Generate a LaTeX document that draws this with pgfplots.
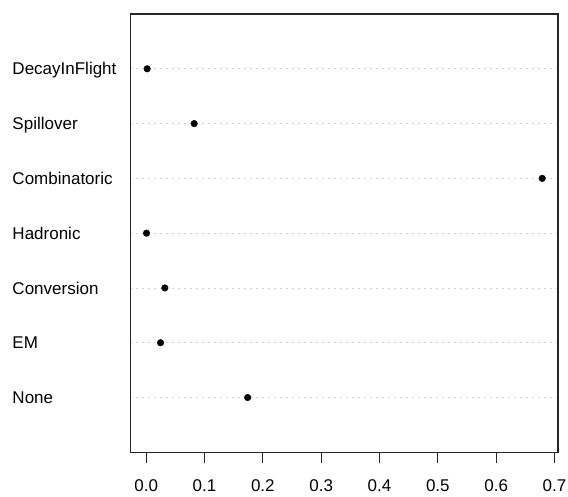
\documentclass[border=0pt]{standalone}
\usepackage{fontspec}
\setmainfont{Liberation Sans}
\usepackage{pgfplots}
\pgfplotsset{compat=1.18}
\definecolor{lgray}{HTML}{D3D3D3}
\begin{document}
\fontsize{17}{20}\selectfont
\begin{tikzpicture}[x=1pt,y=1pt]
\useasboundingbox (0,0) rectangle (568,496);
\begin{axis}[
  at={(130.3pt,43.7pt)}, anchor=south west,
  scale only axis, width=427.7pt, height=438.3pt,
  xmin=-0.0272, xmax=0.706, ymin=0, ymax=8,
  axis line style={line width=1.1pt, black!85},
  xtick={0,0.1,...,0.7},
  xticklabels={0.0,0.1,0.2,0.3,0.4,0.5,0.6,0.7},
  xtick pos=left, tick align=outside,
  major tick length=11pt,
  x tick style={line width=1.1pt, black!85},
  xticklabel style={anchor=base, inner sep=0pt, yshift=-28.3pt},
  ytick={1,2,3,4,5,6,7},
  yticklabels={None,EM,Conversion,Hadronic,Combinatoric,Spillover,DecayInFlight},
  y tick style={draw=none},
  yticklabel style={anchor=base west, inner sep=0pt, xshift=-107pt, yshift=-6.1pt},
  ymajorgrids,
  grid style={lgray, line width=0.8pt, dash pattern=on 1.5pt off 4.5pt},
  /pgf/number format/assume math mode=true,
]
\addplot[only marks, mark=*, mark size=3.3pt, black] coordinates {
  (0.174,1) (0.0246,2) (0.032,3) (0.0006,4) (0.679,5) (0.0823,6) (0.0017,7)
};
\end{axis}
\end{tikzpicture}
\end{document}
